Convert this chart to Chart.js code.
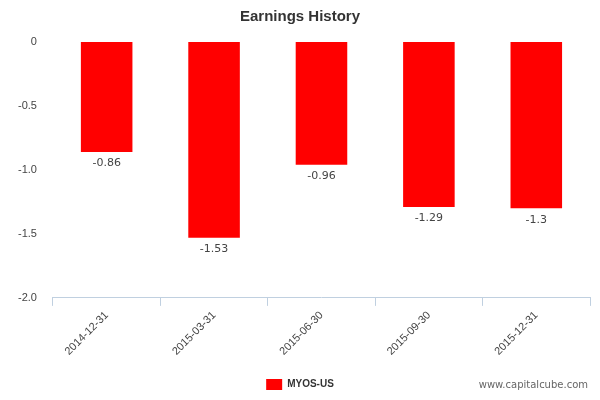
<!DOCTYPE html>
<html lang="en">
<head>
<meta charset="UTF-8">
<title>Earnings History</title>
<script src="https://cdn.jsdelivr.net/npm/chart.js"></script>
<style>
  body { margin: 0; background: #ffffff; font-family: 'DejaVu Sans', sans-serif; }
  .wrap { position: relative; width: 600px; height: 400px; }
  .credit { position: absolute; right: 12px; bottom: 10px; font-size: 10px; color: #666; }
</style>
</head>
<body>
<div class="wrap">
  <canvas id="earnings" width="600" height="400"></canvas>
  <div class="credit">www.capitalcube.com</div>
</div>
<script>
const dates = ['2014-12-31', '2015-03-31', '2015-06-30', '2015-09-30', '2015-12-31'];
const eps = [-0.86, -1.53, -0.96, -1.29, -1.3];
const yTicks = [0, -0.5, -1, -1.5, -2];

// value labels under each bar
const barLabels = {
  id: 'barLabels',
  afterDatasetsDraw(chart) {
    const ctx = chart.ctx;
    const meta = chart.getDatasetMeta(0);
    ctx.save();
    ctx.font = '11px "DejaVu Sans"';
    ctx.fillStyle = '#444';
    ctx.textAlign = 'center';
    ctx.textBaseline = 'top';
    meta.data.forEach((bar, i) => {
      ctx.fillText(String(eps[i]), bar.x, bar.y + 6);
    });
    ctx.restore();
  }
};

new Chart(document.getElementById('earnings'), {
  type: 'bar',
  data: {
    labels: dates,
    datasets: [{
      label: 'MYOS-US',
      data: eps,
      backgroundColor: '#ff0000',
      barPercentage: 0.48,
      categoryPercentage: 1.0
    }]
  },
  options: {
    responsive: false,
    animation: false,
    layout: { padding: { left: 10, right: 10, top: 0, bottom: 0 } },
    scales: {
      y: {
        min: -2, max: 0,
        afterBuildTicks: (axis) => { axis.ticks = yTicks.map(v => ({ value: v })); },
        grid: { display: false },
        border: { display: false },
        ticks: { color: '#444', font: { size: 11 }, padding: 8 }
      },
      x: {
        grid: { display: true, drawOnChartArea: false, offset: true, color: '#c0d0e0', tickLength: 8 },
        border: { color: '#c0d0e0' },
        ticks: { color: '#444', font: { size: 11 }, maxRotation: 45, minRotation: 45 }
      }
    },
    plugins: {
      title: {
        display: true, text: 'Earnings History', color: '#333',
        font: { size: 15, weight: 'bold' }, padding: { top: 8, bottom: 16 }
      },
      legend: {
        position: 'bottom',
        labels: { color: '#333', font: { size: 10, weight: 'bold' }, boxWidth: 16, boxHeight: 11, padding: 18 }
      },
      tooltip: { enabled: false }
    }
  },
  plugins: [barLabels]
});
// legend box colour
Chart.getChart('earnings').data.datasets[0];
</script>
</body>
</html>
